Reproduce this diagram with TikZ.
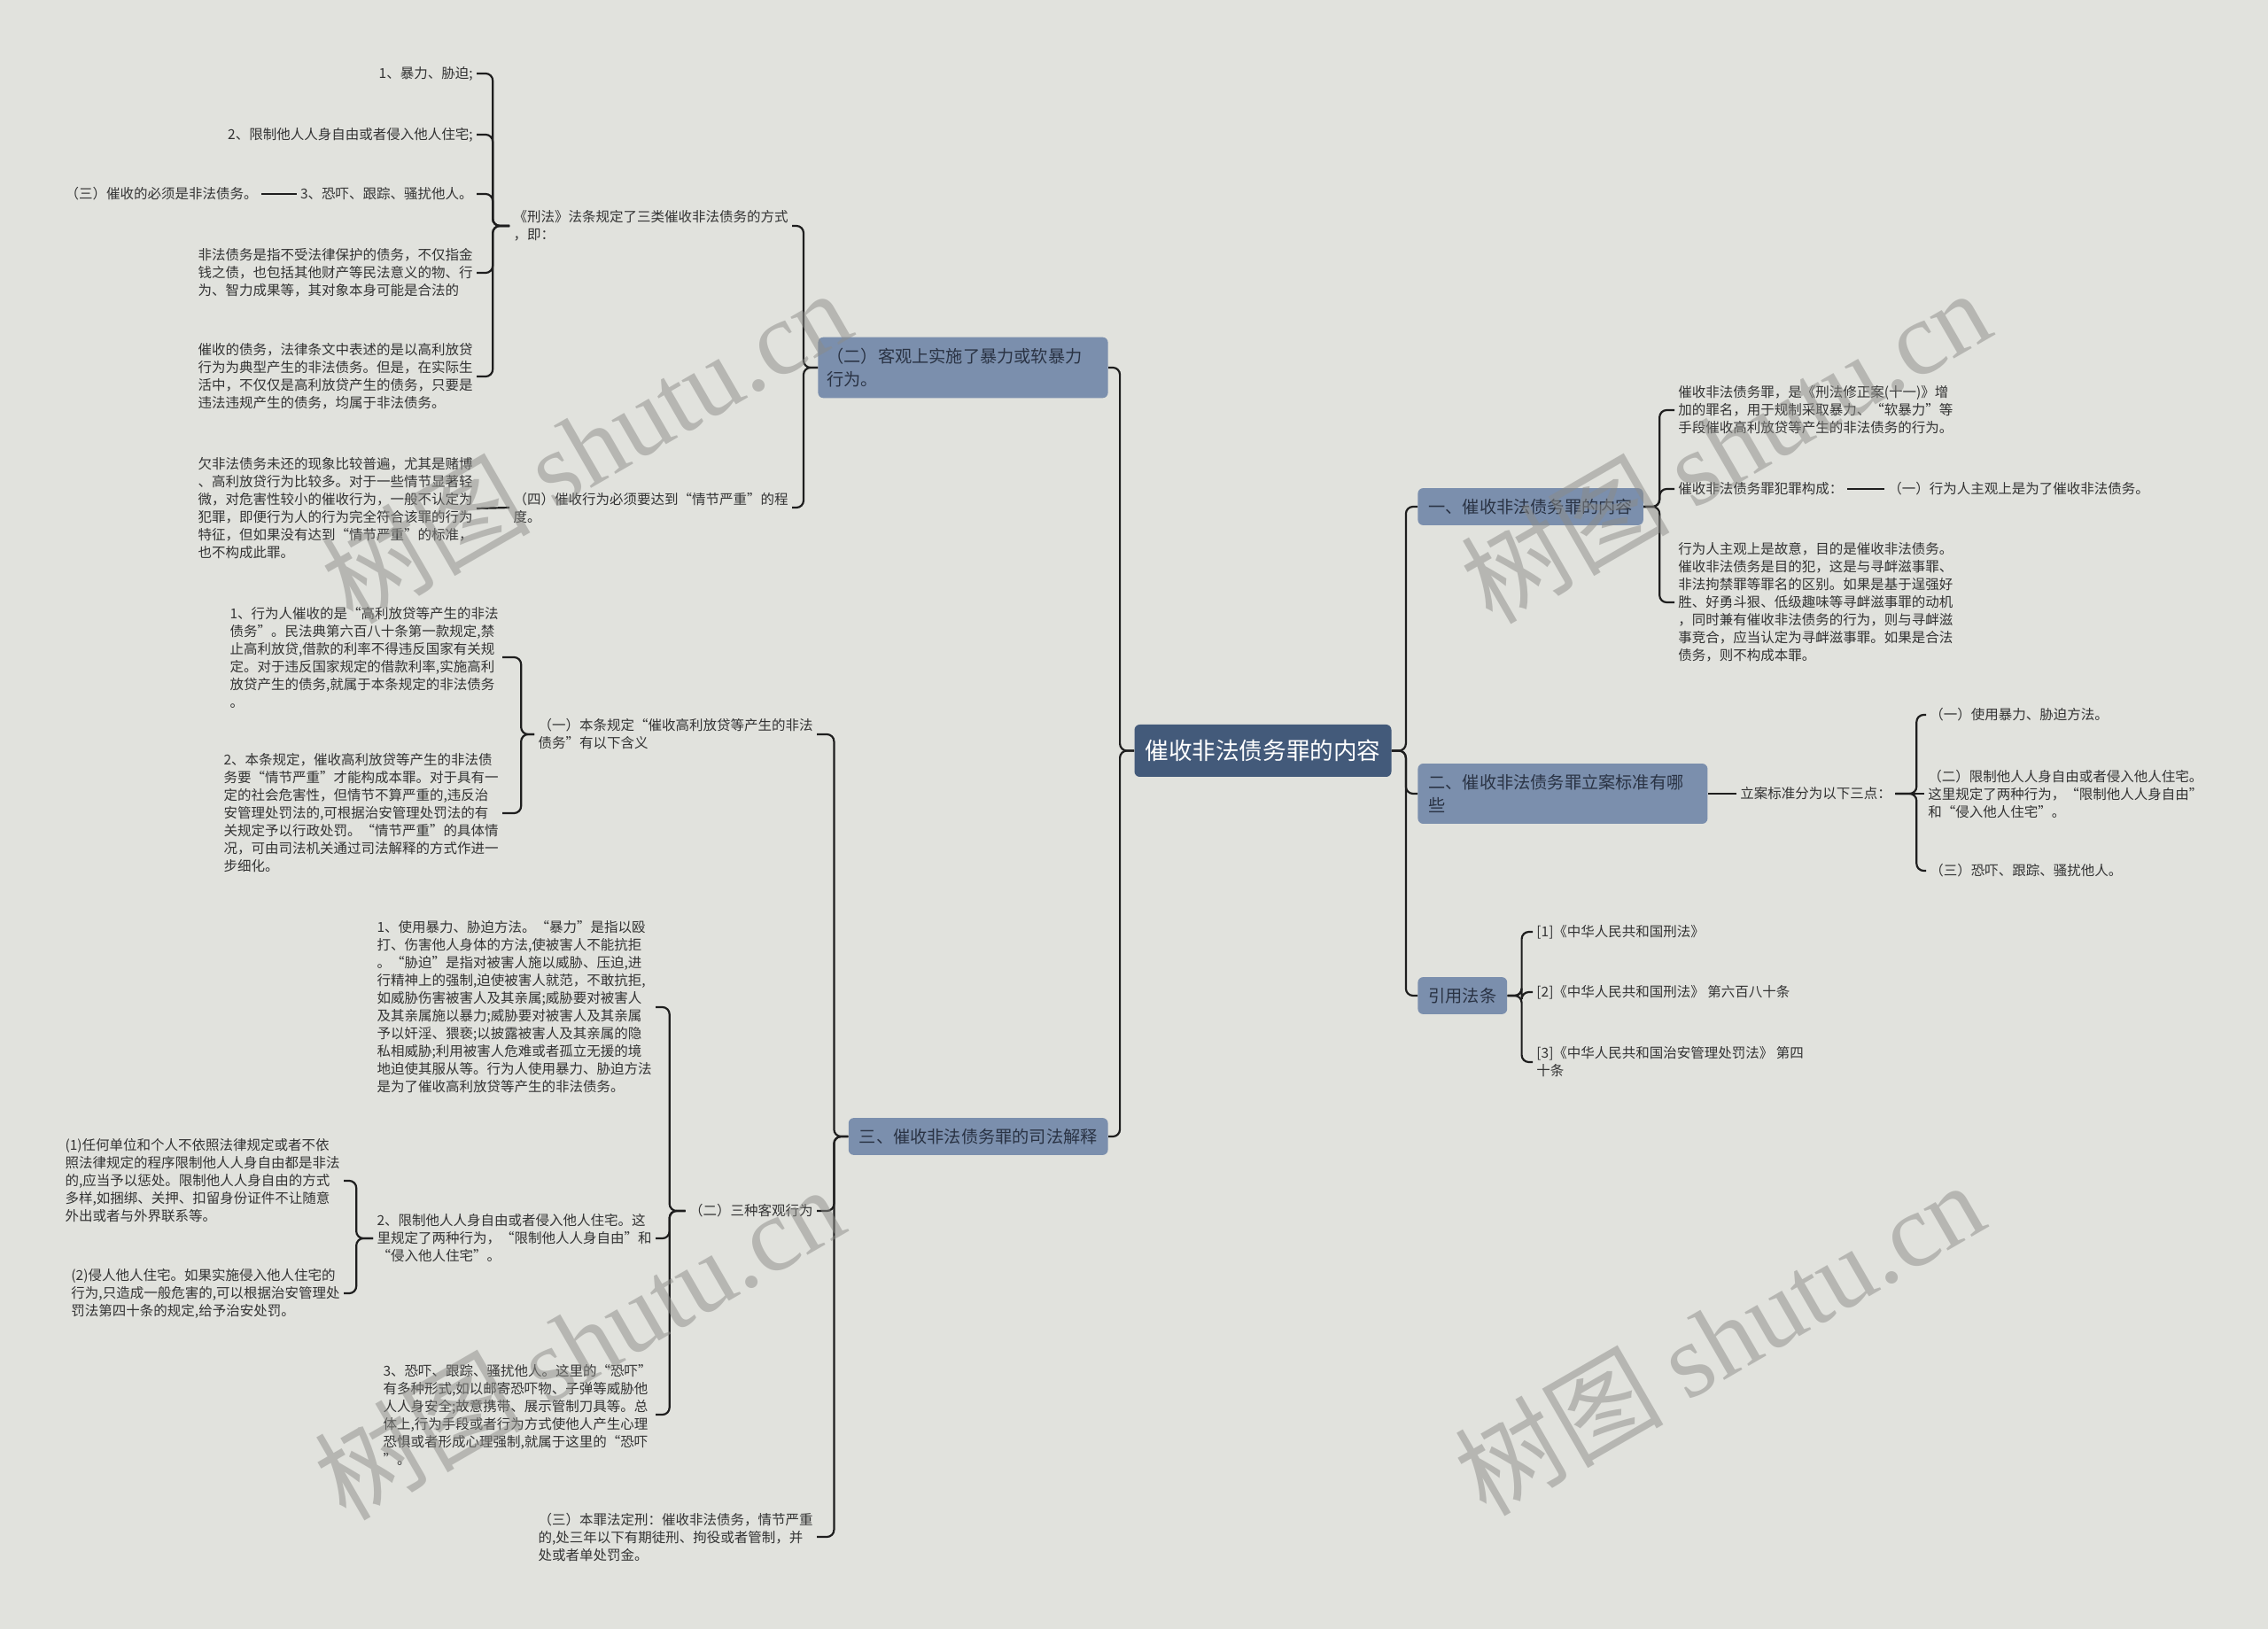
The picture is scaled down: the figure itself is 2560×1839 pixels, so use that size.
\documentclass[tikz,border=0pt]{standalone}
\usepackage{fontspec}
\setmainfont{Noto Sans CJK SC}
\newfontfamily\wmlatin{Liberation Serif}
\definecolor{bgGray}{HTML}{E1E2DD}
\definecolor{rootBlue}{HTML}{435A7A}
\definecolor{topicBlue}{HTML}{7B8FAD}
\definecolor{topicInk}{HTML}{2A3344}
\definecolor{leafInk}{HTML}{333333}
\definecolor{lineInk}{HTML}{1E1E1E}
\definecolor{wmGray}{HTML}{8C8C88}

\begin{document}
\begin{tikzpicture}[
  x=0.5pt, y=-0.5pt,
  rootbox/.style={rectangle, rounded corners=3pt, fill=rootBlue, text=white,
                  minimum height=29.5pt, inner xsep=6pt, font=\fontsize{13.3}{16}\selectfont},
  topic/.style={rectangle, rounded corners=3pt, fill=topicBlue, text=topicInk, align=left,
                inner xsep=6pt, inner ysep=6pt, font=\fontsize{9.6}{13.3}\selectfont},
  leaf/.style={align=left, inner sep=2pt, text=leafInk, font=\fontsize{7.75}{10}\selectfont},
  link/.style={draw=lineInk, line width=1.1pt, rounded corners=4pt},
  wmark/.style={text=wmGray, text opacity=0.5, rotate=30, font=\fontsize{59}{59}\selectfont},
]
\fill[bgGray] (0,0) rectangle (2560,1839);
\useasboundingbox (0,0) rectangle (2560,1839);

% ===== Root =================================================================
\node[rootbox] (root) at (1425.5,847.5) {催收非法债务罪的内容};

% ===== Right: 一 content ====================================================
\node[topic, anchor=west] (defh) at (1600,572) {一、催收非法债务罪的内容};
\node[leaf, anchor=west] (def1) at (1890,463)
  {催收非法债务罪，是《刑法修正案(十一)》增\\加的罪名，用于规制采取暴力、“软暴力”等\\手段催收高利放贷等产生的非法债务的行为。};
\node[leaf, anchor=west] (def2) at (1890,552) {催收非法债务罪犯罪构成：};
\node[leaf, anchor=west] (def2a) at (2127,552) {（一）行为人主观上是为了催收非法债务。};
\node[leaf, anchor=west] (def3) at (1890,680)
  {行为人主观上是故意，目的是催收非法债务。\\催收非法债务是目的犯，这是与寻衅滋事罪、\\非法拘禁罪等罪名的区别。如果是基于逞强好\\胜、好勇斗狠、低级趣味等寻衅滋事罪的动机\\，同时兼有催收非法债务的行为，则与寻衅滋\\事竞合，应当认定为寻衅滋事罪。如果是合法\\债务，则不构成本罪。};

% ===== Right: 二 filing standard ============================================
\node[topic, anchor=west, text width=151.5pt] (filh) at (1600,896) {二、催收非法债务罪立案标准有哪\\些};
\node[leaf, anchor=west] (fil1) at (1960,896) {立案标准分为以下三点：};
\node[leaf, anchor=west] (fil1a) at (2174,807) {（一）使用暴力、胁迫方法。};
\node[leaf, anchor=west] (fil1b) at (2172,896)
  {（二）限制他人人身自由或者侵入他人住宅。\\这里规定了两种行为，“限制他人人身自由”\\和“侵入他人住宅”。};
\node[leaf, anchor=west] (fil1c) at (2174,983) {（三）恐吓、跟踪、骚扰他人。};

% ===== Right: cited laws ====================================================
\node[topic, anchor=west] (refh) at (1600,1124) {引用法条};
\node[leaf, anchor=west] (ref1) at (1730,1052) {[1]《中华人民共和国刑法》};
\node[leaf, anchor=west] (ref2) at (1730,1120) {[2]《中华人民共和国刑法》 第六百八十条};
\node[leaf, anchor=west] (ref3) at (1730,1199) {[3]《中华人民共和国治安管理处罚法》 第四\\十条};

% ===== Left: (二) objective acts ============================================
\node[topic, anchor=east, text width=153.6pt, inner xsep=5pt] (acth) at (1251,415) {（二）客观上实施了暴力或软暴力\\行为。};
\node[leaf, anchor=east] (act1) at (894,255) {《刑法》法条规定了三类催收非法债务的方式\\，即：};
\node[leaf, anchor=east] (act1a) at (538,83) {1、暴力、胁迫;};
\node[leaf, anchor=east] (act1b) at (538,152) {2、限制他人人身自由或者侵入他人住宅;};
\node[leaf, anchor=east] (act1c) at (538,219) {3、恐吓、跟踪、骚扰他人。};
\node[leaf, anchor=east] (act1c1) at (295,219) {（三）催收的必须是非法债务。};
\node[leaf, anchor=east] (act1d) at (538,308)
  {非法债务是指不受法律保护的债务，不仅指金\\钱之债，也包括其他财产等民法意义的物、行\\为、智力成果等，其对象本身可能是合法的};
\node[leaf, anchor=east] (act1e) at (538,425)
  {催收的债务，法律条文中表述的是以高利放贷\\行为为典型产生的非法债务。但是，在实际生\\活中，不仅仅是高利放贷产生的债务，只要是\\违法违规产生的债务，均属于非法债务。};
\node[leaf, anchor=east] (act2) at (894,573) {（四）催收行为必须要达到“情节严重”的程\\度。};
\node[leaf, anchor=east] (act2a) at (538,574)
  {欠非法债务未还的现象比较普遍，尤其是赌博\\、高利放贷行为比较多。对于一些情节显著轻\\微，对危害性较小的催收行为，一般不认定为\\犯罪，即便行为人的行为完全符合该罪的行为\\特征，但如果没有达到“情节严重”的标准，\\也不构成此罪。};

% ===== Left: 三 judicial interpretation =====================================
\node[topic, anchor=east] (jush) at (1251,1283) {三、催收非法债务罪的司法解释};
\node[leaf, anchor=east] (jus1) at (922,829) {（一）本条规定“催收高利放贷等产生的非法\\债务”有以下含义};
\node[leaf, anchor=east] (jus1a) at (567,742)
  {1、行为人催收的是“高利放贷等产生的非法\\债务”。民法典第六百八十条第一款规定,禁\\止高利放贷,借款的利率不得违反国家有关规\\定。对于违反国家规定的借款利率,实施高利\\放贷产生的债务,就属于本条规定的非法债务\\。};
\node[leaf, anchor=east] (jus1b) at (567,918)
  {2、本条规定，催收高利放贷等产生的非法债\\务要“情节严重”才能构成本罪。对于具有一\\定的社会危害性，但情节不算严重的,违反治\\安管理处罚法的,可根据治安管理处罚法的有\\关规定予以行政处罚。“情节严重”的具体情\\况，可由司法机关通过司法解释的方式作进一\\步细化。};
\node[leaf, anchor=east] (jus2) at (922,1367) {（二）三种客观行为};
\node[leaf, anchor=east] (jus2a) at (740,1137)
  {1、使用暴力、胁迫方法。“暴力”是指以殴\\打、伤害他人身体的方法,使被害人不能抗拒\\。“胁迫”是指对被害人施以威胁、压迫,进\\行精神上的强制,迫使被害人就范，不敢抗拒,\\如威胁伤害被害人及其亲属;威胁要对被害人\\及其亲属施以暴力;威胁要对被害人及其亲属\\予以奸淫、猥亵;以披露被害人及其亲属的隐\\私相威胁;利用被害人危难或者孤立无援的境\\地迫使其服从等。行为人使用暴力、胁迫方法\\是为了催收高利放贷等产生的非法债务。};
\node[leaf, anchor=east] (jus2b) at (740,1398)
  {2、限制他人人身自由或者侵入他人住宅。这\\里规定了两种行为，“限制他人人身自由”和\\“侵入他人住宅”。};
\node[leaf, anchor=east] (jus2b1) at (388,1333)
  {(1)任何单位和个人不依照法律规定或者不依\\照法律规定的程序限制他人人身自由都是非法\\的,应当予以惩处。限制他人人身自由的方式\\多样,如捆绑、关押、扣留身份证件不让随意\\外出或者与外界联系等。};
\node[leaf, anchor=east] (jus2b2) at (388,1460)
  {(2)侵人他人住宅。如果实施侵入他人住宅的\\行为,只造成一般危害的,可以根据治安管理处\\罚法第四十条的规定,给予治安处罚。};
\node[leaf, anchor=east] (jus2c) at (740,1597)
  {3、恐吓、跟踪、骚扰他人。这里的“恐吓”\\有多种形式,如以邮寄恐吓物、子弹等威胁他\\人人身安全;故意携带、展示管制刀具等。总\\体上,行为手段或者行为方式使他人产生心理\\恐惧或者形成心理强制,就属于这里的“恐吓\\”。};
\node[leaf, anchor=east] (jus3) at (922,1735)
  {（三）本罪法定刑：催收非法债务，情节严重\\的,处三年以下有期徒刑、拘役或者管制，并\\处或者单处罚金。};

% ===== Connectors ===========================================================
\foreach \t in {defh, filh, refh}
  \draw[link] (root.east) -- ++(16,0) |- (\t.west);
\foreach \t in {acth, jush}
  \draw[link] (root.west) -- ++(-16,0) |- (\t.east);

\foreach \t in {def1, def2, def3}
  \draw[link] (defh.east) -- ++(18,0) |- (\t.west);
\draw[link] (def2.east) -- (def2a.west);

\draw[link] (filh.east) -- (fil1.west);
\foreach \t in {fil1a, fil1c}
  \draw[link] (fil1.east) -- ++(24,0) |- (\t.west);
\draw[link] (fil1.east) -- (fil1b.west);

\foreach \t in {ref1, ref2, ref3}
  \draw[link] (refh.east) -- ++(16,0) |- (\t.west);

\foreach \t in {act1, act2}
  \draw[link] (acth.west) -- ++(-16,0) |- (\t.east);
\foreach \t in {act1a, act1b, act1c, act1d, act1e}
  \draw[link] (act1.west) -- ++(-19,0) |- (\t.east);
\draw[link] (act1c.west) -- (act1c1.east);
\draw[link] (act2.west) -- (act2a.east);

\foreach \t in {jus1, jus2, jus3}
  \draw[link] (jush.west) -- ++(-16,0) |- (\t.east);
\foreach \t in {jus1a, jus1b}
  \draw[link] (jus1.west) -- ++(-15,0) |- (\t.east);
\foreach \t in {jus2a, jus2b, jus2c}
  \draw[link] (jus2.west) -- ++(-18,0) |- (\t.east);
\foreach \t in {jus2b1, jus2b2}
  \draw[link] (jus2b.west) -- ++(-19,0) |- (\t.east);

% ===== Watermarks ===========================================================
\node[wmark] (wm1) at (661,503) {树图 {\wmlatin shutu.cn}};
\node[wmark] (wm2) at (1947,503) {树图 {\wmlatin shutu.cn}};
\node[wmark] (wm3) at (653,1515) {树图 {\wmlatin shutu.cn}};
\node[wmark] (wm4) at (1940,1510) {树图 {\wmlatin shutu.cn}};

\end{tikzpicture}
\end{document}
